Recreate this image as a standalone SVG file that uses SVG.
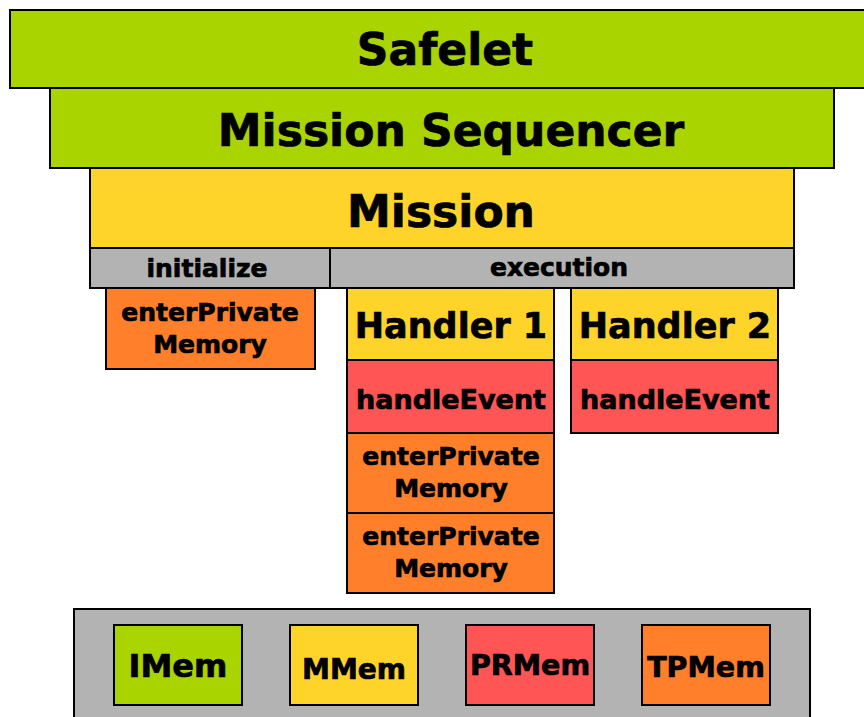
<svg xmlns="http://www.w3.org/2000/svg" width="864" height="717" viewBox="0 0 864 717">
<style>
rect{stroke:#000;stroke-width:2}
text{font-family:"DejaVu Sans","Liberation Sans",sans-serif;font-weight:bold;text-anchor:middle;fill:#000;stroke:#000;stroke-width:0.7}
.g{fill:#aad400}.y{fill:#ffd42a}.r{fill:#ff5555}.o{fill:#ff7f2a}.k{fill:#b3b3b3}
.xl{font-size:44px}.l{font-size:35px}.m{font-size:25px}.h{font-size:27px}
</style>
<rect width="864" height="717" fill="#fff" style="stroke:none"/>
<g id="safelet"><rect class="g" x="10" y="10" width="870" height="78"/><text class="xl" x="445" y="65">Safelet</text></g>
<g id="sequencer"><rect class="g" x="50" y="88" width="784" height="80"/><text class="xl" x="451" y="146">Mission Sequencer</text></g>
<g id="mission"><rect class="y" x="90" y="168" width="704" height="80"/><text class="xl" x="441" y="227">Mission</text></g>
<g id="initialize"><rect class="k" x="90" y="248" width="240" height="40"/><text class="m" x="207" y="277">initialize</text></g>
<g id="execution"><rect class="k" x="330" y="248" width="464" height="40"/><text class="m" x="559" y="276">execution</text></g>
<g id="init-epm"><rect class="o" x="106" y="288" width="209" height="81"/><text class="m" x="210" y="321">enterPrivate</text><text class="m" x="210" y="353">Memory</text></g>
<g id="handler1"><rect class="y" x="347" y="288" width="207" height="72"/><text class="l" x="451" y="338">Handler 1</text></g>
<g id="h1-event"><rect class="r" x="347" y="360" width="207" height="73"/><text class="h" x="451" y="409">handleEvent</text></g>
<g id="h1-epm1"><rect class="o" x="347" y="433" width="207" height="80"/><text class="m" x="451" y="465">enterPrivate</text><text class="m" x="451" y="497">Memory</text></g>
<g id="h1-epm2"><rect class="o" x="347" y="513" width="207" height="80"/><text class="m" x="451" y="545">enterPrivate</text><text class="m" x="451" y="577">Memory</text></g>
<g id="handler2"><rect class="y" x="571" y="288" width="207" height="72"/><text class="l" x="675" y="338">Handler 2</text></g>
<g id="h2-event"><rect class="r" x="571" y="360" width="207" height="73"/><text class="h" x="675" y="409">handleEvent</text></g>
<g id="memory"><rect class="k" x="74" y="609" width="736" height="120"/></g>
<g id="imem"><rect class="g" x="114" y="625" width="128" height="80"/><text x="178" y="677" style="font-size:32px">IMem</text></g>
<g id="mmem"><rect class="y" x="290" y="625" width="128" height="80"/><text x="354" y="679" style="font-size:28px">MMem</text></g>
<g id="prmem"><rect class="r" x="466" y="625" width="128" height="80"/><text x="530" y="675" style="font-size:28.5px">PRMem</text></g>
<g id="tpmem"><rect class="o" x="642" y="625" width="128" height="80"/><text x="706" y="677" style="font-size:28.5px">TPMem</text></g>
<g id="connectors"/>
</svg>
